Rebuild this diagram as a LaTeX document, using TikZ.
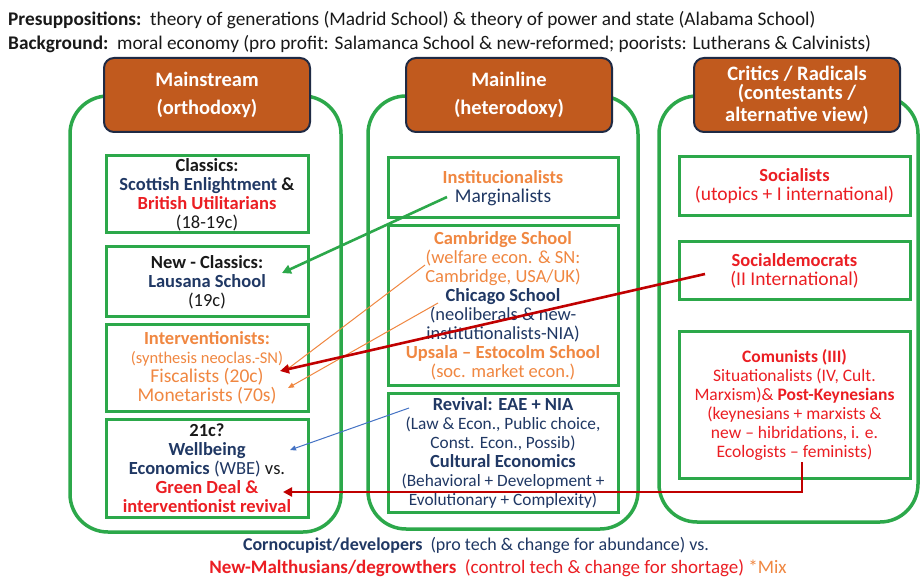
\documentclass[tikz,border=0pt]{standalone}
\usepackage{fontspec}
\setmainfont{Carlito}
\usetikzlibrary{arrows.meta,calc}
\definecolor{grn}{RGB}{44,168,74}
\definecolor{navyT}{RGB}{32,56,100}
\definecolor{redT}{RGB}{235,30,35}
\definecolor{orT}{RGB}{240,135,65}
\definecolor{dred}{RGB}{192,0,0}
\definecolor{blueA}{RGB}{68,114,196}
\definecolor{hfill}{RGB}{193,90,30}
\definecolor{hborder}{RGB}{31,42,68}
\definecolor{txt}{RGB}{25,25,25}
\begin{document}
\begin{tikzpicture}[x=1pt,y=-1pt,
  outerbox/.style={draw=grn, line width=3.5pt, rounded corners=38pt, inner sep=0pt},
  innerbox/.style={draw=grn, line width=3pt, fill=white, align=center, inner sep=0pt, text=txt},
  headbox/.style={draw=hborder, line width=2pt, fill=hfill, rounded corners=10pt, text=white, align=center, inner sep=0pt, minimum width=206pt, minimum height=74pt, font=\fontsize{20.5}{28}\selectfont\bfseries},
  plaintext/.style={inner sep=0pt, align=left, text=txt},
  fs/.style={font=\fontsize{18.5}{19}\selectfont},
  thickarrow/.style={line width=2.6pt, -{Triangle[length=9pt,width=9pt]}},
  thinarrow/.style={line width=1pt, -{Triangle[length=6pt,width=5pt]}}
]
\useasboundingbox (0,0) rectangle (921,577);
\fill[white] (0,0) rectangle (921,577);

% header lines
\node[plaintext, anchor=west, font=\fontsize{19.3}{22}\selectfont] (presup) at (8,20)
  {\textbf{Presuppositions:}\ \ theory of generations (Madrid School) \& theory of power and state (Alabama School)};
\node[plaintext, anchor=west, font=\fontsize{19.3}{22}\selectfont] (backg) at (8,44)
  {\textbf{Background:}\ \ moral economy (pro profit: Salamanca School \& new-reformed; poorists: Lutherans \& Calvinists)};

% outer columns
\node[outerbox, minimum width=271pt, minimum height=436pt] (colL) at (205.5,314) {};
\node[outerbox, minimum width=270pt, minimum height=433pt] (colM) at (503,312.5) {};
\node[outerbox, minimum width=259pt, minimum height=426pt] (colR) at (788.5,309) {};

% header boxes
\node[headbox] (hL) at (207,95) {Mainstream\\(orthodoxy)};
\node[headbox] (hM) at (509,95) {Mainline\\(heterodoxy)};
\node[headbox, font=\fontsize{20.5}{21.5}\selectfont\bfseries] (hR) at (797,95) {\raisebox{-2pt}{Critics / Radicals}\\(contestants /\\alternative view)};

% left column boxes
\node[innerbox, fs, minimum width=202pt, minimum height=77pt] (classics) at (207,194.5)
  {\textbf{Classics:}\\\textbf{\textcolor{navyT}{Scottish Enlightment} \&}\\\textbf{\textcolor{redT}{British Utilitarians}}\\(18-19c)};
\node[innerbox, fs, minimum width=202pt, minimum height=70pt] (newclass) at (207,282)
  {\textbf{New - Classics:}\\\textbf{\textcolor{navyT}{Lausana School}}\\(19c)};
\node[innerbox, fs, minimum width=202pt, minimum height=86pt, text=orT] (interv) at (207,368)
  {\textbf{Interventionists:}\\{\fontsize{16.5}{19}\selectfont (synthesis neoclas.-SN)}\\{\fontsize{19.5}{19}\selectfont Fiscalists (20c)}\\{\fontsize{19.5}{19}\selectfont Monetarists (70s)}};
\node[innerbox, fs, minimum width=202pt, minimum height=98pt] (wbe) at (207,468)
  {\textbf{21c?}\\\textbf{\textcolor{navyT}{Wellbeing}}\\\textcolor{navyT}{\textbf{Economics} (WBE)} vs.\\\textbf{\textcolor{redT}{Green Deal \&}}\\\textbf{\textcolor{redT}{interventionist revival}}};

% middle column boxes
\node[innerbox, fs, minimum width=230pt, minimum height=60pt] (instit) at (503,188)
  {\textbf{\textcolor{orT}{Institucionalists}}\\{\fontsize{19.5}{19}\selectfont\textcolor{navyT}{Marginalists}}};
\node[innerbox, fs, minimum width=230pt, minimum height=159pt] (cambr) at (503,305.5)
  {\textbf{\textcolor{orT}{Cambridge School}}\\\textcolor{orT}{(welfare econ. \& SN:}\\\textcolor{orT}{Cambridge, USA/UK)}\\\textbf{\textcolor{navyT}{Chicago School}}\\\textcolor{navyT}{(neoliberals \& new-}\\\textcolor{navyT}{institutionalists-NIA)}\\\textbf{\textcolor{orT}{Upsala -- Estocolm School}}\\\textcolor{orT}{(soc. market econ.)}};
\node[innerbox, font=\fontsize{17.3}{19}\selectfont, minimum width=230pt, minimum height=119pt, text=navyT] (reviv) at (503,452.5)
  {{\fontsize{18.5}{19}\selectfont\textbf{Revival: EAE + NIA}}\\(Law \& Econ., Public choice,\\Const. Econ., Possib)\\{\fontsize{18.5}{19}\selectfont\textbf{Cultural Economics}}\\(Behavioral + Development +\\Evolutionary + Complexity)};

% right column boxes
\node[innerbox, fs, minimum width=231pt, minimum height=59pt, text=redT] (social) at (794.5,186.5)
  {\textbf{Socialists}\\{\fontsize{19.5}{19}\selectfont (utopics + I international)}};
\node[innerbox, fs, minimum width=231pt, minimum height=58pt, text=redT] (socdem) at (794.5,271)
  {\textbf{Socialdemocrats}\\{\fontsize{19.5}{19}\selectfont (II International)}};
\node[innerbox, font=\fontsize{17.5}{19}\selectfont, minimum width=231pt, minimum height=146pt, text=redT] (comun) at (794.5,405)
  {\textbf{Comunists (III)}\\Situationalists (IV, Cult.\\Marxism)\& \textbf{Post-Keynesians}\\(keynesians + marxists \&\\new -- hibridations, i. e.\\Ecologists -- feminists)};

% bottom lines
\node[inner sep=0pt, font=\fontsize{18}{19}\selectfont, text=navyT] (corno) at (476,545)
  {\textbf{Cornocupist/developers}\ \ (pro tech \& change for abundance) vs.};
\node[inner sep=0pt, font=\fontsize{19}{19}\selectfont, text=redT] (malth) at (498,568)
  {\textbf{New-Malthusians/degrowthers}\ \ (control tech \& change for shortage) \textcolor{orT}{*Mix}};

% connector end points
\coordinate (gS) at (447,197);
\coordinate (gE) at (282,273);
\coordinate (o1S) at (425,265);
\coordinate (o1E) at (285,371);
\coordinate (o2S) at (438,303);
\coordinate (o2E) at (288,388);
\coordinate (rS) at (705,274);
\coordinate (rE) at (280,371);
\coordinate (bS) at (409,408);
\coordinate (bE) at (290,450);
\coordinate (eS) at (802,462);
\coordinate (eE) at (283,492);

% connectors
\draw[thinarrow, draw=orT] (o1S) -- (o1E);
\draw[thinarrow, draw=orT] (o2S) -- (o2E);
\draw[thinarrow, draw=blueA] (bS) -- (bE);
\draw[thickarrow, draw=grn] (gS) -- (gE);
\draw[thickarrow, draw=dred] (rS) -- (rE);
\draw[thickarrow, draw=dred] (eS) |- (eE);
\end{tikzpicture}
\end{document}
